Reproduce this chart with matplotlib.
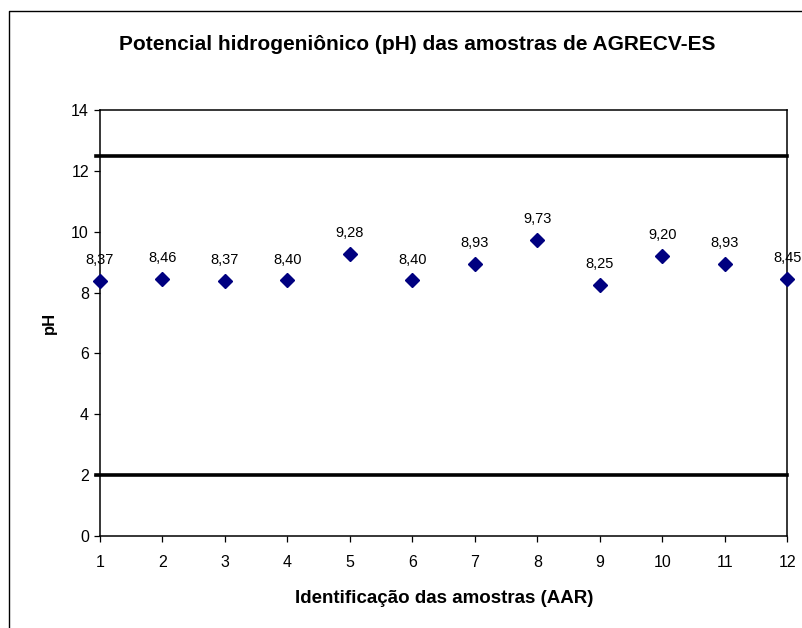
import matplotlib
matplotlib.use("Agg")
import matplotlib.pyplot as plt
from matplotlib.lines import Line2D

samples = [1, 2, 3, 4, 5, 6, 7, 8, 9, 10, 11, 12]
ph_values = [8.37, 8.46, 8.37, 8.40, 9.28, 8.40, 8.93, 9.73, 8.25, 9.20, 8.93, 8.45]
limit_upper = 12.5
limit_lower = 2.0
yticks = [0, 2, 4, 6, 8, 10, 12, 14]

plt.rcParams['font.family'] = ['Liberation Sans', 'DejaVu Sans']

W, H = 803, 628
fig = plt.figure(figsize=(W / 100, H / 100), dpi=100)
ax = fig.add_axes([100 / W, (H - 536) / H, (787.5 - 100) / W, (536 - 110) / H])

ax.set_xlim(1, 12)
ax.set_ylim(0, 14)

ax.axhline(limit_upper, color='black', lw=2.6, xmin=-0.006, xmax=1.0, clip_on=False, zorder=2)
ax.axhline(limit_lower, color='black', lw=2.6, xmin=-0.006, xmax=1.0, clip_on=False, zorder=2)

ax.plot(samples, ph_values, linestyle='none', marker='D', markersize=7.5,
        color='#000080', clip_on=False, zorder=3)
for x, y in zip(samples, ph_values):
    ax.annotate(f"{y:.2f}".replace('.', ','), (x, y), xytext=(0, 10),
                textcoords='offset points', ha='center', va='bottom', fontsize=10.5)

ax.set_xticks(samples)
ax.set_yticks(yticks)
ax.tick_params(axis='both', direction='out', length=4, width=0.9, labelsize=11.5, pad=10)
ax.tick_params(axis='y', pad=4)
for s in ax.spines.values():
    s.set_linewidth(1.1)

ax.set_xlabel('Identificação das amostras (AAR)', fontsize=13.5, fontweight='bold', labelpad=14)
ax.set_ylabel('pH', fontsize=12, fontweight='bold', labelpad=10)

fig.text(417 / W, 1 - 45 / H, 'Potencial hidrogeniônico (pH) das amostras de AGRECV-ES',
         ha='center', va='center', fontsize=15, fontweight='bold')

# outer chart border (left and top edges)
fig.add_artist(Line2D([9 / W, 9 / W, 1.0], [0.0, 1 - 11 / H, 1 - 11 / H],
                      transform=fig.transFigure, color='black', lw=1.0))

fig.savefig('out.png', dpi=100)
